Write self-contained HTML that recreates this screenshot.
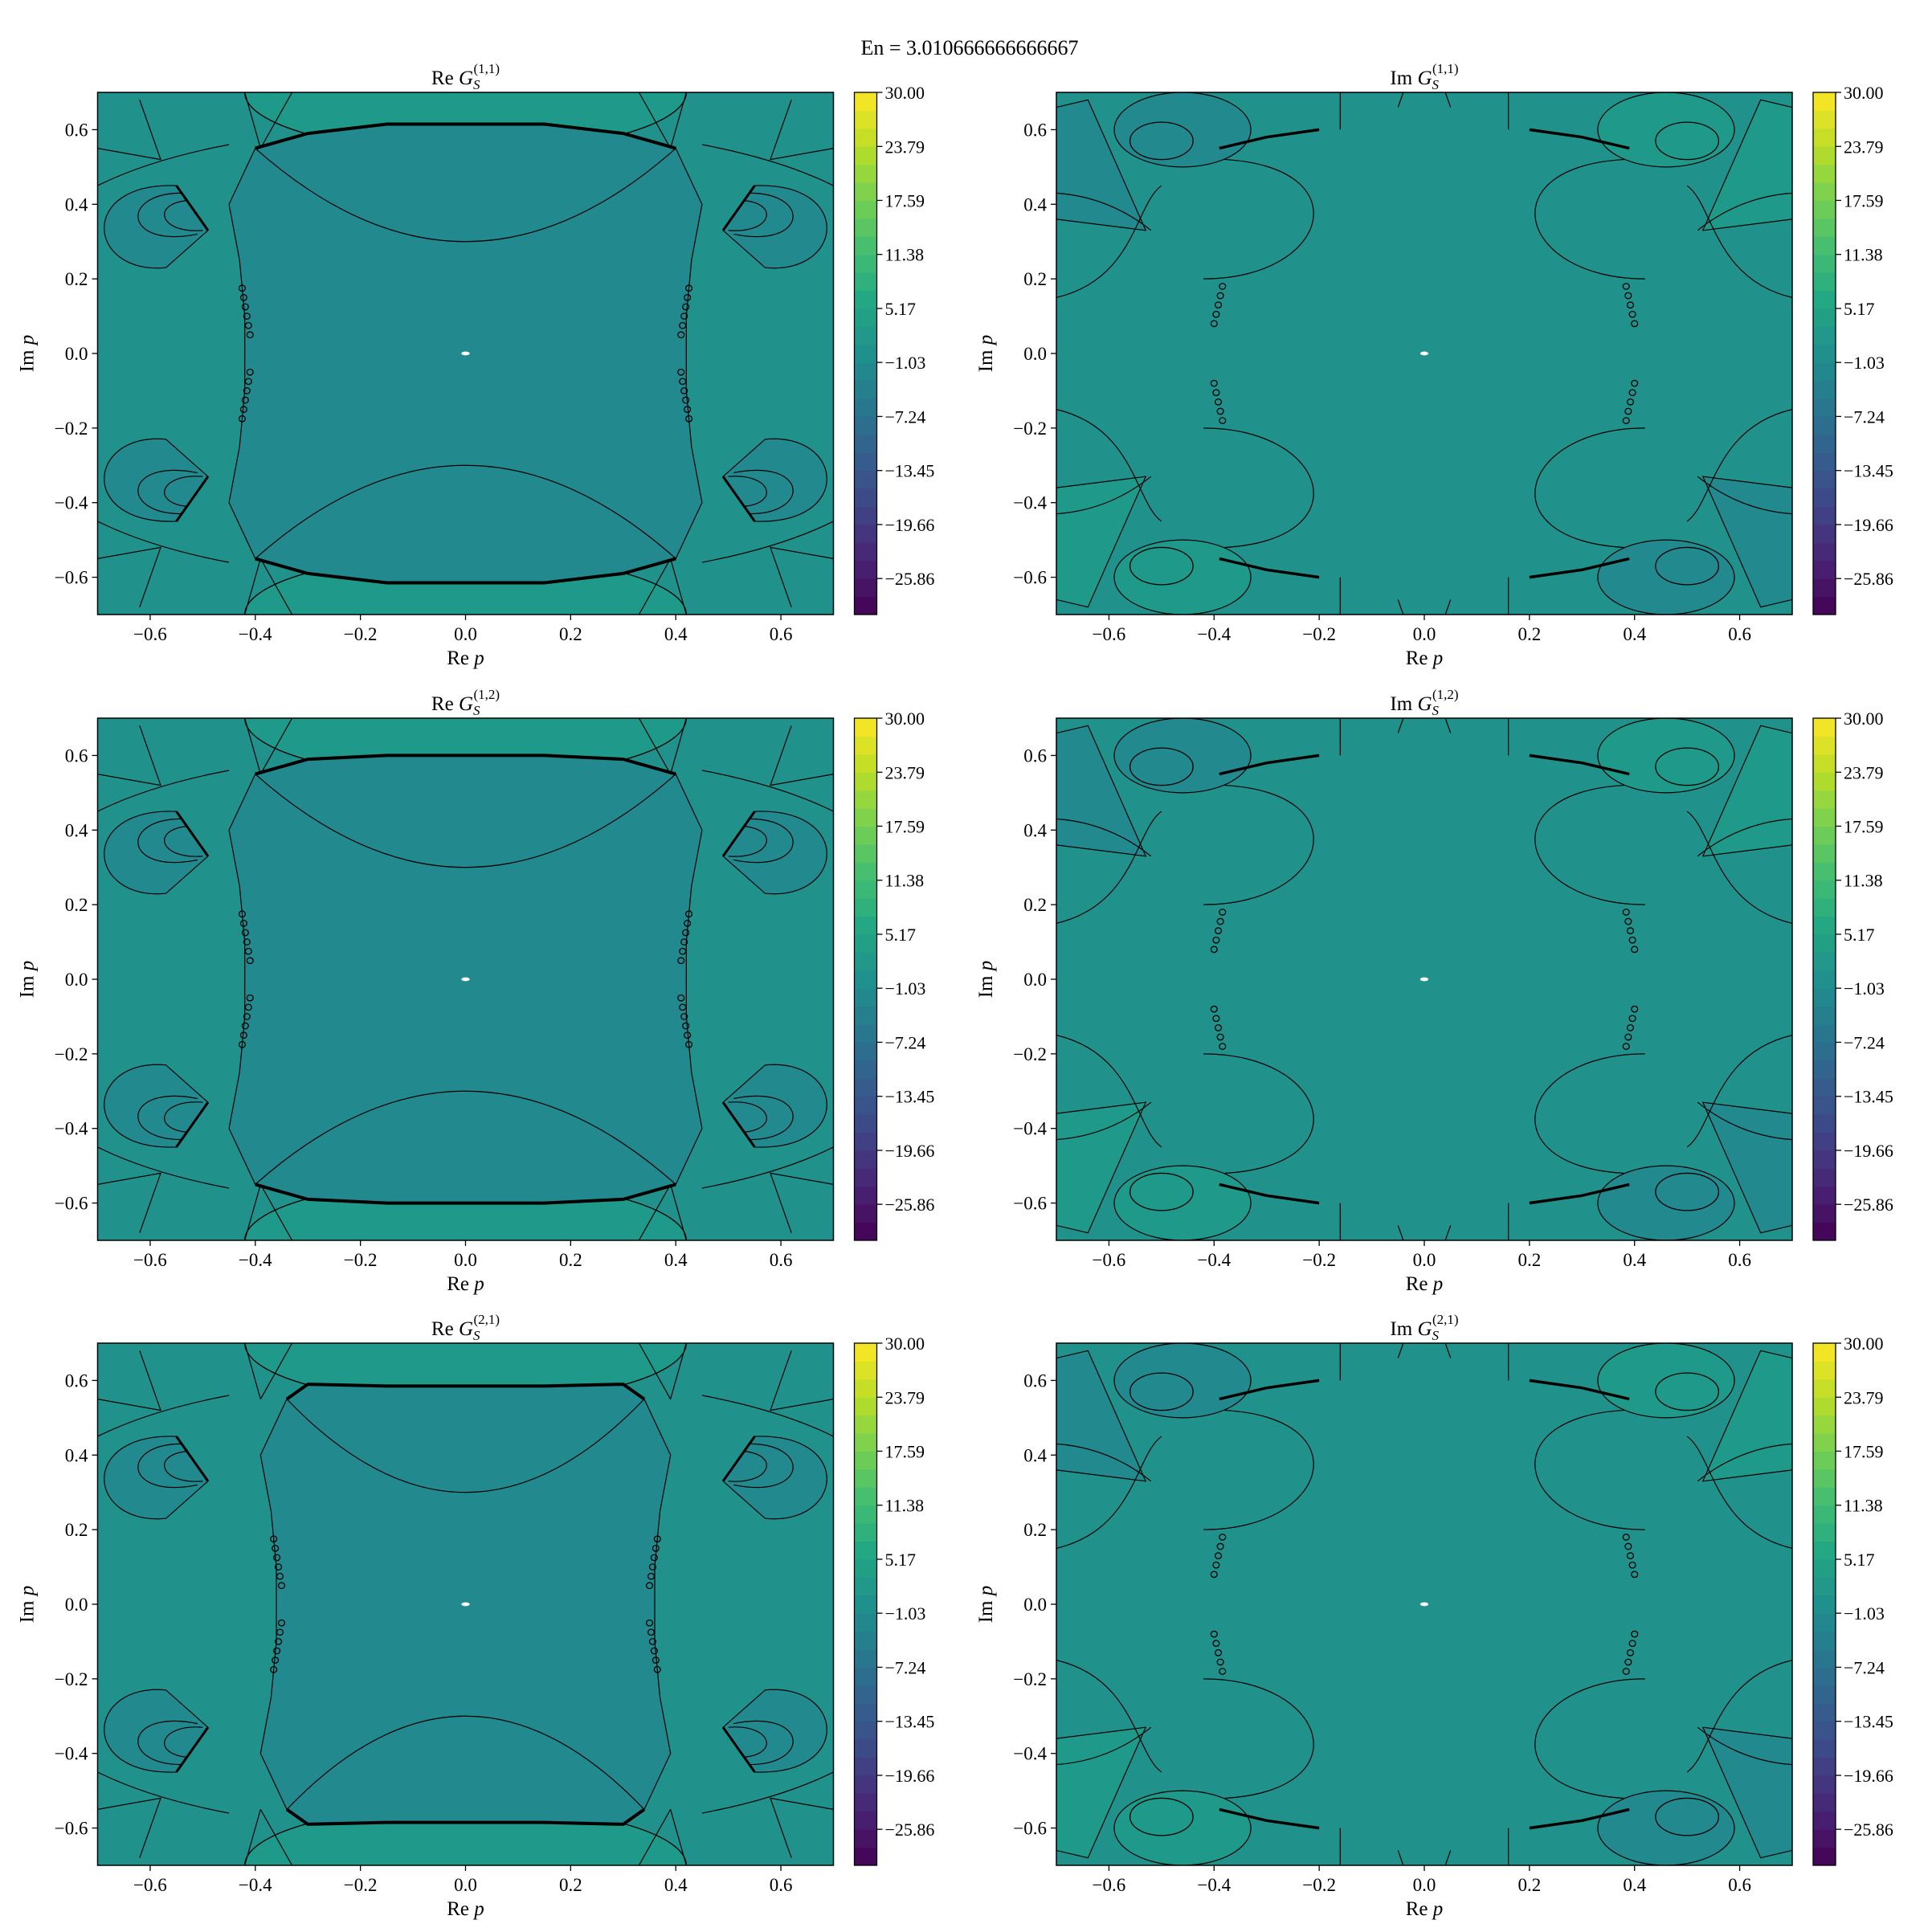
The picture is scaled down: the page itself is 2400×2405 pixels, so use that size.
<!DOCTYPE html>
<html><head><meta charset="utf-8"><style>
html,body{margin:0;padding:0;background:#fff;}
svg text{font-family:"Liberation Serif",serif;fill:#000;}
</style></head><body>
<svg id="fig" xmlns="http://www.w3.org/2000/svg" width="2400" height="2400" viewBox="0 0 2400 2400">
<rect width="2400" height="2400" fill="#fff"/>
<text x="1207" y="68" font-size="26" text-anchor="middle">En = 3.010666666666667</text>
</svg>
<script>
const xTicks = [-0.6,-0.4,-0.2,0.0,0.2,0.4,0.6];
const yTicks = [-0.6,-0.4,-0.2,0.0,0.2,0.4,0.6];
const cbarTicks = [30.00,23.79,17.59,11.38,5.17,-1.03,-7.24,-13.45,-19.66,-25.86];
const cbarMin = -30, cbarMax = 30, cbarBands = 29;
const panelKinds = ["re","im","re","im","re","im"];
const panelSup = ["(1,1)","(1,1)","(1,2)","(1,2)","(2,1)","(2,1)"];
const arcPeak = [0.615,0.6,0.585];

const NS="http://www.w3.org/2000/svg";
const svg=document.getElementById('fig');
function mk(tag,attrs,parent){const e=document.createElementNS(NS,tag);for(const k in attrs)e.setAttribute(k,attrs[k]);(parent||svg).appendChild(e);return e;}
const viridis=[[68,1,84],[72,35,116],[64,67,135],[52,94,141],[41,120,142],[32,144,140],[34,167,132],[68,190,112],[121,209,81],[189,222,38],[253,231,37]];
function vir(t){t=Math.max(0,Math.min(1,t));const s=t*10,i=Math.min(9,Math.floor(s)),f=s-i;const a=viridis[i],b=viridis[i+1];return `rgb(${a.map((v,k)=>Math.round(v+(b[k]-v)*f)).join(',')})`;}

const colX=[121.5,1315], rowY=[115,894,1672], W=916, H=650;
function drawPanel(idx){
  const x0=colX[idx%2], y0=rowY[Math.floor(idx/2)], kind=panelKinds[idx];
  const X=v=>x0+(v+0.7)/1.4*W, Y=v=>y0+(0.7-v)/1.4*H;
  const g=mk('g',{});
  
  
  const cid='clip'+idx;
  const cp=mk('clipPath',{id:cid},g);mk('rect',{x:x0,y:y0,width:W,height:H},cp);
  const body=mk('g',{'clip-path':`url(#${cid})`},g);
  mk('rect',{x:x0,y:y0,width:W,height:H,fill:'#21918c'},body);
  const line={fill:'none',stroke:'#000','stroke-width':1.3};
  const pth=pts=>pts.map((p,i)=>(i?'L':'M')+X(p[0]).toFixed(1)+' '+Y(p[1]).toFixed(1)).join(' ');
  const ell=(cx,cy,rx,ry,attrs)=>mk('ellipse',Object.assign({cx:X(cx),cy:Y(cy),rx:rx/1.4*W,ry:ry/1.4*H},attrs),body);
  if(kind==='re'){
    const pk=arcPeak[Math.floor(idx/2)];
    [1,-1].forEach(s=>{
      ell(0,s*0.7,0.42,0.16,{fill:'#1f9a8a'});
      ell(0,s*0.7,0.42,0.16,line);
    });
    const xl=Math.floor(idx/2)===2?0.34:0.4;
    const br=[[-xl,0.55],[-0.3,0.59],[-0.15,pk],[0,pk],[0.15,pk],[0.3,0.59],[xl,0.55],[xl+0.05,0.4],[xl+0.03,0.25],[xl+0.02,0.1],[xl+0.02,-0.1],[xl+0.03,-0.25],[xl+0.05,-0.4],[xl,-0.55],[0.3,-0.59],[0.15,-pk],[-0.15,-pk],[-0.3,-0.59],[-xl,-0.55],[-xl-0.05,-0.4],[-xl-0.03,-0.25],[-xl-0.02,-0.1],[-xl-0.02,0.1],[-xl-0.03,0.25],[-xl-0.05,0.4]];
    mk('path',Object.assign({d:pth(br)+'Z'},{fill:'#22898e',stroke:'#000','stroke-width':1.2}),body);
    [1,-1].forEach(s=>{
      mk('path',{d:pth([[-xl,s*0.55],[-0.3,s*0.59],[-0.15,s*pk],[0.15,s*pk],[0.3,s*0.59],[xl,s*0.55]]),fill:'none',stroke:'#000','stroke-width':4},body);
      mk('path',{d:`M${X(-xl)} ${Y(s*0.55)} Q ${X(0)} ${Y(s*0.05)} ${X(xl)} ${Y(s*0.55)}`},body).setAttribute('style','fill:none;stroke:#000;stroke-width:1.2');
      [-1,1].forEach(h=>{
        mk('path',{d:`M${X(h*0.55)} ${Y(s*0.45)} C ${X(h*0.74)} ${Y(s*0.46)} ${X(h*0.72)} ${Y(s*0.21)} ${X(h*0.57)} ${Y(s*0.23)} L ${X(h*0.49)} ${Y(s*0.33)} Z`,fill:'#22898e',stroke:'#000','stroke-width':1.2},body);
        mk('path',{d:`M${X(h*0.54)} ${Y(s*0.43)} C ${X(h*0.66)} ${Y(s*0.43)} ${X(h*0.65)} ${Y(s*0.28)} ${X(h*0.51)} ${Y(s*0.32)}`,fill:'none',stroke:'#000','stroke-width':1.2},body);
        mk('path',{d:`M${X(h*0.53)} ${Y(s*0.41)} C ${X(h*0.6)} ${Y(s*0.4)} ${X(h*0.58)} ${Y(s*0.32)} ${X(h*0.5)} ${Y(s*0.33)}`,fill:'none',stroke:'#000','stroke-width':1.2},body);
        mk('path',{d:pth([[h*0.55,s*0.45],[h*0.49,s*0.33]]),fill:'none',stroke:'#000','stroke-width':3},body);
        mk('path',{d:`M${X(h*0.7)} ${Y(s*0.45)} Q ${X(h*0.6)} ${Y(s*0.52)} ${X(h*0.45)} ${Y(s*0.56)}`,fill:'none',stroke:'#000','stroke-width':1.2},body);
        mk('path',{d:`M${X(h*0.7)} ${Y(s*0.55)} L ${X(h*0.58)} ${Y(s*0.52)} L ${X(h*0.62)} ${Y(s*0.68)}`,fill:'none',stroke:'#000','stroke-width':1.2},body);
        mk('path',{d:`M${X(h*0.39)} ${Y(s*0.55)} L ${X(h*0.33)} ${Y(s*0.7)} M${X(h*0.39)} ${Y(s*0.55)} L ${X(h*0.42)} ${Y(s*0.7)}`,fill:'none',stroke:'#000','stroke-width':1.2},body);
        for(let k=0;k<6;k++){ell(h*(xl+0.01+k*0.003),s*(0.05+k*0.025),0.006,0.008,line);}
      });
    });
  } else {
    const lob=[[-0.46,0.6,'#22898e'],[0.46,0.6,'#1f9a8a'],[-0.46,-0.6,'#1f9a8a'],[0.46,-0.6,'#22898e']];
    lob.forEach(l=>{
      ell(l[0],l[1],0.13,0.1,{fill:l[2],stroke:'#000','stroke-width':1.2});
      ell(l[0]+Math.sign(l[0])*0.04,l[1]-Math.sign(l[1])*0.03,0.06,0.05,line);
      const sx=Math.sign(l[0]),sy=Math.sign(l[1]);
      mk('path',{d:pth([[sx*0.39,sy*0.55],[sx*0.3,sy*0.58],[sx*0.2,sy*0.6]]),fill:'none',stroke:'#000','stroke-width':3.5},body);
      const c2=(sx*sy>0)?'#1f9a8a':'#22898e';
      mk('path',{d:pth([[sx*0.7,sy*0.66],[sx*0.64,sy*0.68],[sx*0.53,sy*0.33],[sx*0.7,sy*0.36]])+'Z',fill:c2,stroke:'#000','stroke-width':1.2},body);
      mk('path',{d:`M${X(sx*0.38)} ${Y(sy*0.52)} C ${X(sx*0.12)} ${Y(sy*0.5)} ${X(sx*0.18)} ${Y(sy*0.2)} ${X(sx*0.42)} ${Y(sy*0.2)}`,fill:'none',stroke:'#000','stroke-width':1.2},body);
      mk('path',{d:`M${X(sx*0.7)} ${Y(sy*0.15)} C ${X(sx*0.55)} ${Y(sy*0.2)} ${X(sx*0.55)} ${Y(sy*0.4)} ${X(sx*0.5)} ${Y(sy*0.45)}`,fill:'none',stroke:'#000','stroke-width':1.2},body);
      mk('path',{d:`M${X(sx*0.7)} ${Y(sy*0.43)} Q ${X(sx*0.6)} ${Y(sy*0.42)} ${X(sx*0.52)} ${Y(sy*0.33)}`,fill:'none',stroke:'#000','stroke-width':1.2},body);
      mk('path',{d:`M${X(sx*0.16)} ${Y(sy*0.6)} L ${X(sx*0.16)} ${Y(sy*0.7)} M${X(sx*0.05)} ${Y(sy*0.66)} L ${X(sx*0.04)} ${Y(sy*0.7)}`,fill:'none',stroke:'#000','stroke-width':1.2},body);
      for(let k=0;k<5;k++){ell(sx*(0.4-k*0.004),sy*(0.08+k*0.025),0.006,0.008,line);}
    });
  }
  ell(0,0,0.008,0.005,{fill:'#fff'});
  mk('rect',{x:x0,y:y0,width:W,height:H,fill:'none',stroke:'#000','stroke-width':1.5},g);
  xTicks.forEach(t=>{
    mk('line',{x1:X(t),x2:X(t),y1:y0+H,y2:y0+H+7,stroke:'#000','stroke-width':1.3},g);
    const tx=mk('text',{x:X(t),y:y0+H+32,'font-size':23,'text-anchor':'middle'},g);tx.textContent=(t<0?'\u2212':'')+Math.abs(t).toFixed(1);
  });
  yTicks.forEach(t=>{
    mk('line',{x1:x0-7,x2:x0,y1:Y(t),y2:Y(t),stroke:'#000','stroke-width':1.3},g);
    const tx=mk('text',{x:x0-12,y:Y(t)+8,'font-size':23,'text-anchor':'end'},g);tx.textContent=(t<0?'\u2212':'')+Math.abs(t).toFixed(1);
  });
  const xl=mk('text',{x:x0+W/2,y:y0+H+62,'font-size':25,'text-anchor':'middle'},g);xl.textContent='Re ';
  const xi=mk('tspan',{'font-style':'italic'},xl);xi.textContent='p';
  
  const yl=mk('text',{x:0,y:0,'font-size':25,'text-anchor':'middle',transform:`translate(${x0-80},${y0+H/2}) rotate(-90)`},g);yl.textContent='Im ';
  const yi=mk('tspan',{'font-style':'italic'},yl);yi.textContent='p';
  
  const tt=mk('text',{x:x0+W/2,y:y0-10,'font-size':25,'text-anchor':'middle'},g);
  
  tt.appendChild(document.createTextNode(kind==='re'?'Re ':'Im '));
  const gg=mk('tspan',{'font-style':'italic'},tt);gg.textContent='G';
  const sub=mk('tspan',{'font-style':'italic','font-size':17,dy:6},tt);sub.textContent='S';
  const sup=mk('tspan',{'font-size':17,dy:-20,dx:-8},tt);sup.textContent=panelSup[idx];
  const cx=x0+942, cw=28;
  const cb=mk('g',{},g);
  
  const CY=v=>y0+(cbarMax-v)/(cbarMax-cbarMin)*H;
  for(let b=0;b<cbarBands;b++){
    const lo=cbarMin+b*(cbarMax-cbarMin)/cbarBands, hi=lo+(cbarMax-cbarMin)/cbarBands;
    mk('rect',{x:cx,y:CY(hi),width:cw,height:CY(lo)-CY(hi)+0.5,fill:vir((b+0.5)/cbarBands)},cb);
  }
  mk('rect',{x:cx,y:y0,width:cw,height:H,fill:'none',stroke:'#000','stroke-width':1.3},cb);
  cbarTicks.forEach(t=>{
    mk('line',{x1:cx+cw,x2:cx+cw+7,y1:CY(t),y2:CY(t),stroke:'#000','stroke-width':1.3},cb);
    const tx=mk('text',{x:cx+cw+10,y:CY(t)+8,'font-size':22},cb);tx.textContent=(t<0?'\u2212':'')+Math.abs(t).toFixed(2);
  });
}
for(let i=0;i<6;i++)drawPanel(i);
</script>
</body></html>
